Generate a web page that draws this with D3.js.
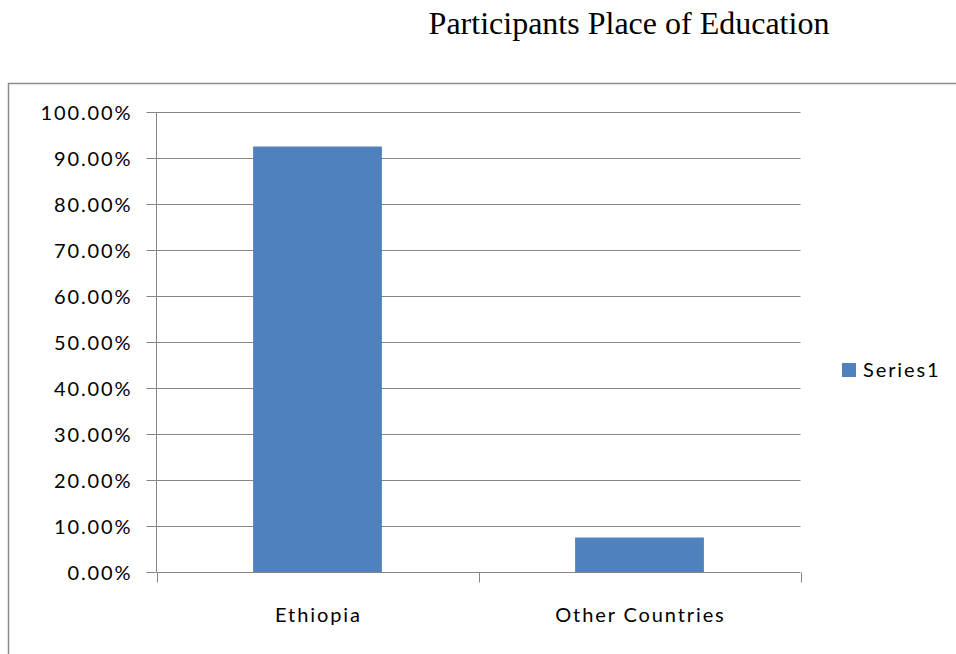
<!DOCTYPE html>
<html>
<head>
<meta charset="utf-8">
<script src="https://cdn.jsdelivr.net/npm/d3@7"></script>
<style>
  html, body { margin: 0; padding: 0; background: #fff; }
  svg { display: block; }
</style>
</head>
<body>
<svg id="chart" width="956" height="654"></svg>
<script>
// Chart data
const categories = ["Ethiopia", "Other Countries"];
const values = [0.925, 0.075];
const yTicks = [0, 0.1, 0.2, 0.3, 0.4, 0.5, 0.6, 0.7, 0.8, 0.9, 1.0];
const seriesName = "Series1";
const title = "Participants Place of Education";

const svg = d3.select("#chart");
const barColor = "#4f81bd";
const gridColor = "#868686";
const labelFont = "Lato, 'Open Sans', sans-serif";
const labelSize = 20;
const labelSpacing = 1.9;

// Outer chart frame
svg.append("rect")
  .attr("x", 8.5).attr("y", 83.5)
  .attr("width", 960).attr("height", 600)
  .attr("fill", "none").attr("stroke", "#8c8c8c").attr("stroke-width", 1.5);

// Title
svg.append("text")
  .attr("x", 629).attr("y", 34)
  .attr("text-anchor", "middle")
  .attr("font-family", "'Liberation Serif', 'Times New Roman', serif")
  .attr("font-size", 32)
  .attr("fill", "#000")
  .text(title);

const plot = { left: 156.5, right: 800.5, top: 112, bottom: 572 };

const x = d3.scaleBand()
  .domain(categories)
  .range([plot.left, plot.right])
  .paddingInner(0.6)
  .paddingOuter(0.3);

const y = d3.scaleLinear()
  .domain([0, 1])
  .range([plot.bottom, plot.top]);

// Horizontal gridlines
svg.append("g")
  .selectAll("line")
  .data(yTicks.filter(d => d > 0))
  .join("line")
  .attr("x1", plot.left).attr("x2", plot.right)
  .attr("y1", d => Math.round(y(d)) + 0.5).attr("y2", d => Math.round(y(d)) + 0.5)
  .attr("stroke", gridColor).attr("stroke-width", 1);

// Bars
svg.append("g")
  .selectAll("rect")
  .data(categories.map((c, i) => ({ c, v: values[i] })))
  .join("rect")
  .attr("x", d => x(d.c))
  .attr("y", d => y(d.v))
  .attr("width", x.bandwidth())
  .attr("height", d => y(0) - y(d.v))
  .attr("fill", barColor);

// Y axis
const yAxis = d3.axisLeft(y)
  .tickValues(yTicks)
  .tickFormat(d => (d * 100).toFixed(2) + "%")
  .tickSize(10)
  .tickPadding(14);

const gy = svg.append("g")
  .attr("transform", `translate(${plot.left},0)`)
  .call(yAxis);
gy.select(".domain").attr("stroke", gridColor).attr("d", `M0,${plot.top}V${plot.bottom}`);
gy.selectAll(".tick line").attr("stroke", gridColor);
gy.selectAll(".tick").attr("transform", d => `translate(0,${Math.round(y(d)) + 0.5})`);
gy.selectAll("text")
  .attr("font-family", labelFont)
  .attr("font-size", labelSize)
  .attr("letter-spacing", labelSpacing)
  .attr("dy", "0.36em")
  .attr("fill", "#000");

// X axis with category boundary ticks
const xAxisY = plot.bottom + 0.5;
svg.append("line")
  .attr("x1", plot.left).attr("x2", plot.right)
  .attr("y1", xAxisY).attr("y2", xAxisY)
  .attr("stroke", gridColor);

const bounds = d3.range(categories.length + 1)
  .map(i => plot.left + i * (plot.right - plot.left) / categories.length);
svg.append("g")
  .selectAll("line")
  .data(bounds)
  .join("line")
  .attr("x1", d => Math.round(d) + 0.5).attr("x2", d => Math.round(d) + 0.5)
  .attr("y1", xAxisY).attr("y2", xAxisY + 10)
  .attr("stroke", gridColor);

svg.append("g")
  .selectAll("text")
  .data(categories)
  .join("text")
  .attr("x", d => x(d) + x.bandwidth() / 2 + labelSpacing / 2)
  .attr("y", 621.5)
  .attr("text-anchor", "middle")
  .attr("font-family", labelFont)
  .attr("font-size", labelSize)
  .attr("letter-spacing", labelSpacing)
  .attr("fill", "#000")
  .text(d => d);

// Legend
const legend = svg.append("g").attr("transform", "translate(842,363)");
legend.append("rect")
  .attr("width", 14).attr("height", 14)
  .attr("fill", barColor);
legend.append("text")
  .attr("x", 21).attr("y", 14.3)
  .attr("font-family", labelFont)
  .attr("font-size", labelSize)
  .attr("letter-spacing", labelSpacing)
  .attr("fill", "#000")
  .text(seriesName);
</script>
</body>
</html>
